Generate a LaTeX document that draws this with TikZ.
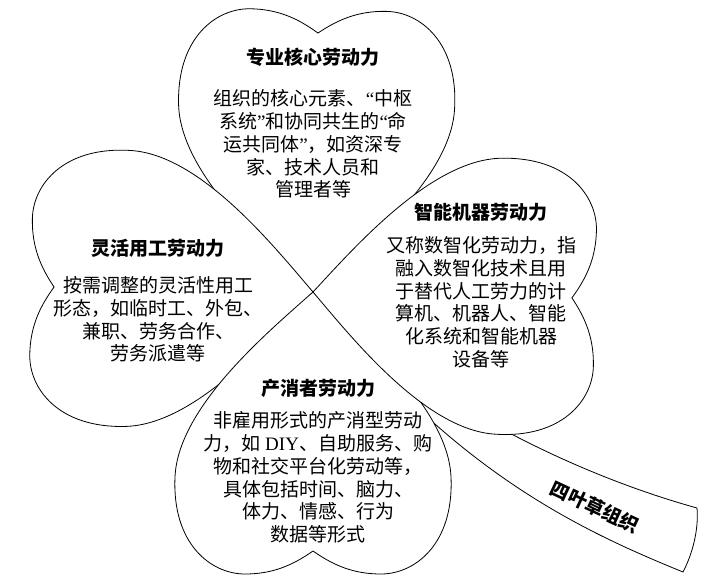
\documentclass[tikz,border=0pt]{standalone}
\usepackage{fontspec}
\setmainfont{Liberation Serif}
\newfontfamily\cjk{Noto Sans CJK SC}
\newfontfamily\lat{Liberation Serif}
\usetikzlibrary{positioning}
\tikzset{
  leaf/.style={draw=black,fill=white,line width=0.8pt},
  stembox/.style={draw=black,fill=white,line width=0.8pt},
  leaftitle/.style={font=\cjk\bfseries\fontsize{19}{22.8}\selectfont,inner sep=0pt},
  leaftext/.style={font=\cjk\fontsize{19}{22.8}\selectfont,align=center,inner sep=0pt}
}

\begin{document}
\begin{tikzpicture}[x=1pt,y=-1pt]
  \useasboundingbox (0,0) rectangle (723,586);
  \coordinate (ctr) at (313,292);
  \coordinate (stemtop) at (697,508);
  \coordinate (stembot) at (683,572);
  % stem
  \draw[stembox] (ctr) .. controls (410,390) and (560,470) .. (stemtop)
    .. controls (699,530) and (692,555) .. (stembot)
    .. controls (580,530) and (450,470) .. (ctr) -- cycle;
  \node[leaftitle,rotate=-25] (stemname) at (595,507) {四叶草组织};
  % four leaves
  \foreach \ang in {-1.1,88.9,180,-91.3}
    \draw[leaf,shift={(ctr)},rotate=\ang] (0,0)
      .. controls (-45,-40) and (-135,-115) .. (-138,-185)
      .. controls (-141,-252) and (-102,-282) .. (-68,-282)
      .. controls (-40,-282) and (-20,-273) .. (0,-259)
      .. controls (20,-273) and (40,-282) .. (68,-282)
      .. controls (102,-282) and (141,-252) .. (138,-185)
      .. controls (135,-115) and (45,-40) .. (0,0) -- cycle;
  % texts
  \node[leaftitle] (coretitle) at (313,57) {专业核心劳动力};
  \node[leaftext,below=23pt of coretitle] (coretext) {组织的核心元素、{\lat “}中枢\\系统{\lat ”}和协同共生的{\lat “}命\\运共同体{\lat ”}，如资深专\\家、技术人员和\\管理者等};
  \node[leaftitle] (flextitle) at (158,248) {灵活用工劳动力};
  \node[leaftext,below=19pt of flextitle] (flextext) {按需调整的灵活性用工\\形态，如临时工、外包、\\兼职、劳务合作、\\劳务派遣等};
  \node[leaftitle] (aititle) at (481,212) {智能机器劳动力};
  \node[leaftext,below=15pt of aititle] (aitext) {又称数智化劳动力，指\\融入数智化技术且用\\于替代人工劳力的计\\算机、机器人、智能\\化系统和智能机器\\设备等};
  \node[leaftitle] (prosumtitle) at (318,388) {产消者劳动力};
  \node[leaftext,below=14pt of prosumtitle] (prosumtext) {非雇用形式的产消型劳动\\力，如 {\lat DIY}、自助服务、购\\物和社交平台化劳动等，\\具体包括时间、脑力、\\体力、情感、行为\\数据等形式};
\end{tikzpicture}
\end{document}
